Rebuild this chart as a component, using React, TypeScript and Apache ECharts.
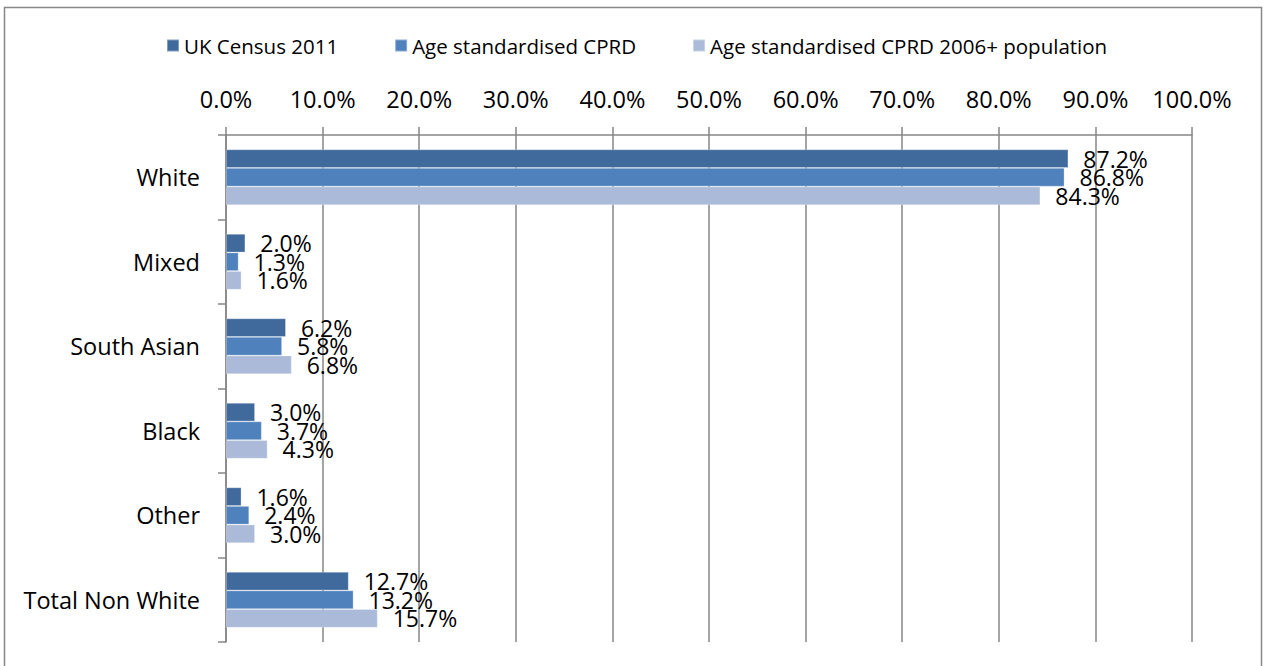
import React, { useEffect, useRef } from "react";
import * as echarts from "echarts";

const categories = ["White", "Mixed", "South Asian", "Black", "Other", "Total Non White"];
const seriesNames = ["UK Census 2011", "Age standardised CPRD", "Age standardised CPRD 2006+ population"];
const census2011 = [87.2, 2.0, 6.2, 3.0, 1.6, 12.7];
const cprd = [86.8, 1.3, 5.8, 3.7, 2.4, 13.2];
const cprd2006 = [84.3, 1.6, 6.8, 4.3, 3.0, 15.7];
const colors = ["#406a9b", "#4f81bd", "#aabad8"];

const FONT = "'Open Sans', 'Noto Sans', sans-serif";

export default function App() {
  const ref = useRef<HTMLDivElement>(null);
  useEffect(() => {
    if (!ref.current) return;
    const chart = echarts.init(ref.current, null, { renderer: "svg" });
    const values = [census2011, cprd, cprd2006];
    chart.setOption({
      animation: false,
      backgroundColor: "#ffffff",
      textStyle: { fontFamily: FONT },
      graphic: [
        {
          type: "rect",
          shape: { x: 4.5, y: 7.5, width: 1257, height: 700 },
          style: { fill: "none", stroke: "#888888", lineWidth: 1.5 },
          silent: true,
        },
      ],
      legend: {
        top: 30,
        left: 161,
        itemWidth: 12,
        itemHeight: 12,
        itemGap: 56,
        icon: "rect",
        textStyle: { fontFamily: FONT, fontSize: 20.5, color: "#000" },
        data: seriesNames,
      },
      grid: { left: 226, right: 72, top: 135, bottom: 24 },
      xAxis: {
        type: "value",
        position: "top",
        min: 0,
        max: 100,
        interval: 10,
        axisLine: { show: true, lineStyle: { color: "#868686", width: 1.5 } },
        axisTick: { show: true, length: 8, lineStyle: { color: "#868686", width: 1.5 } },
        splitLine: { show: true, lineStyle: { color: "#868686", width: 1.5 } },
        axisLabel: {
          formatter: (v: number) => v.toFixed(1) + "%",
          fontFamily: FONT,
          fontSize: 23.5,
          color: "#000",
          margin: 24,
        },
      },
      yAxis: {
        type: "category",
        inverse: true,
        data: categories,
        axisLine: { show: true, lineStyle: { color: "#868686", width: 1.5 } },
        axisTick: { show: true, length: 8, lineStyle: { color: "#868686", width: 1.5 } },
        axisLabel: { fontFamily: FONT, fontSize: 23.5, color: "#000", margin: 26 },
      },
      series: seriesNames.map((name, i) => ({
        name,
        type: "bar",
        data: values[i],
        barGap: "0%",
        barCategoryGap: "34%",
        itemStyle: { color: colors[i], borderColor: "rgba(255,255,255,0.35)", borderWidth: 0.8 },
        label: {
          show: true,
          position: "right",
          distance: 15,
          formatter: (p: any) => p.value.toFixed(1) + "%",
          fontFamily: FONT,
          fontSize: 23,
          color: "#000",
        },
      })),
    });
    return () => chart.dispose();
  }, []);
  return (
    <div
      ref={ref}
      style={{ position: "absolute", left: 0, top: 0, width: 1264, height: 666 }}
    />
  );
}
